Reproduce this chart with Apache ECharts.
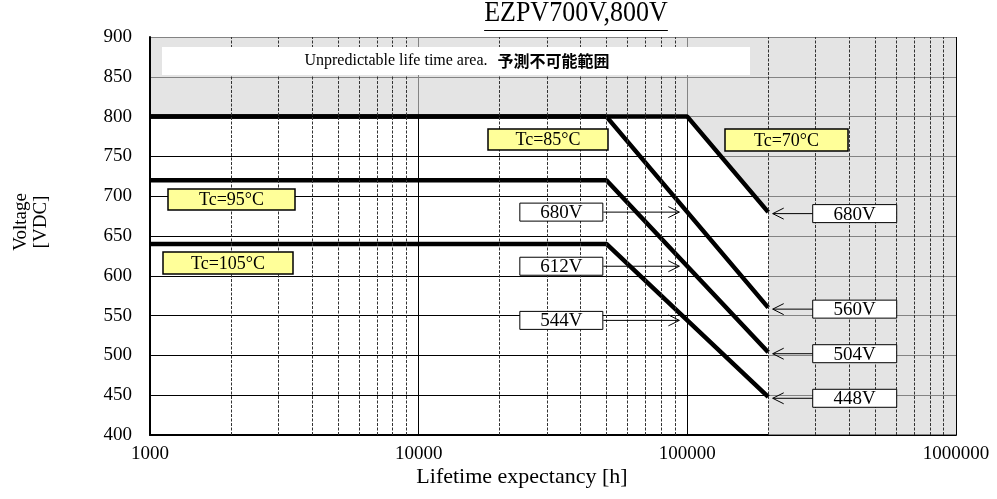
<!DOCTYPE html>
<html><head><meta charset="utf-8">
<script src="https://cdn.jsdelivr.net/npm/echarts@6/dist/echarts.min.js"></script>
<style>html,body{margin:0;padding:0;background:#fff}#c{width:997px;height:499px}</style>
</head><body><div id="c"></div>
<script>
// ---- data ----
const lifeHours70 = [1000, 100000, 200000];
const volt70 = [800, 800, 680];
const lifeHours = [1000, 50000, 200000];
const volt85 = [800, 800, 560];
const volt95 = [720, 720, 504];
const volt105 = [640, 640, 448];
const xTicks = [1000, 10000, 100000, 1000000];
const yTicks = [400, 450, 500, 550, 600, 650, 700, 750, 800, 850, 900];
const minorGrid = [2000,3000,4000,5000,6000,7000,8000,9000,
  20000,30000,40000,50000,60000,70000,80000,90000,
  200000,300000,400000,500000,600000,700000,800000,900000];
const midHours = 100000;
const midVolts = [680, 612, 544];
const endHours = 200000;
const endVolts = [680, 560, 504, 448];
const tcLabels = ['Tc=70°C', 'Tc=85°C', 'Tc=95°C', 'Tc=105°C'];
const titleText = 'EZPV700V,800V';
const areaText = 'Unpredictable life time area.';
const areaTextJa = '予測不可能範囲';
const xName = 'Lifetime expectancy [h]';
const yName = ['Voltage', '[VDC]'];

const SERIF = '"Liberation Serif", "Times New Roman", serif';
const zip = (xs, ys) => xs.map((x, i) => [x, ys[i]]);

const chart = echarts.init(document.getElementById('c'), null, {renderer: 'canvas'});
const xMin = xTicks[0], xMax = xTicks[xTicks.length - 1];
const yMin = yTicks[0], yMax = yTicks[yTicks.length - 1];

// unpredictable region: above the Tc=70 envelope and beyond its end
const grayRegion = [[xMin, yMax]].concat(zip(lifeHours70, volt70))
  .concat([[lifeHours70[lifeHours70.length - 1], yMin], [xMax, yMin], [xMax, yMax]]);

const lineStyle = {color: '#000', width: 4.5};
function lineSeries(name, xs, ys) {
  return {name, type: 'line', data: zip(xs, ys), symbol: 'none', z: 4,
    lineStyle, silent: true, animation: false};
}

chart.setOption({
  animation: false,
  grid: {left: 150, right: 41, top: 37, bottom: 64},
  xAxis: {
    type: 'log', logBase: 10, min: xMin, max: xMax,
    axisLine: {show: true, onZero: false, lineStyle: {color: '#000', width: 2}},
    axisTick: {show: false},
    axisLabel: {fontFamily: SERIF, fontSize: 19, color: '#000', margin: 10,
      formatter: v => String(Math.round(v))},
    splitLine: {show: true, lineStyle: {color: '#000', width: 1}}
  },
  yAxis: {
    type: 'value', min: yMin, max: yMax, interval: 50,
    axisLine: {show: true, lineStyle: {color: '#000', width: 2}},
    axisTick: {show: false},
    axisLabel: {fontFamily: SERIF, fontSize: 19, color: '#000', margin: 18},
    splitLine: {show: true, lineStyle: {color: '#000', width: 1}}
  },
  series: [
    {type: 'line', data: [], z: 1, silent: true,
      markLine: {silent: true, symbol: 'none', label: {show: false}, animation: false,
        lineStyle: {color: '#333', width: 1, type: [3, 1.5]},
        data: minorGrid.map(v => ({xAxis: v}))}},
    {type: 'custom', z: 2, silent: true, data: [[xMin, yMin]],
      renderItem: (params, api) => ({
        type: 'polygon',
        shape: {points: grayRegion.map(p => api.coord(p))},
        style: {fill: 'rgba(212,212,212,0.62)'}
      })},
    {type: 'line', data: [], z: 5, silent: true,
      markLine: {silent: true, symbol: 'none', label: {show: false}, animation: false,
        lineStyle: {color: '#000', width: 2, type: 'solid'},
        data: [{xAxis: xMin}]}},
    lineSeries(tcLabels[0], lifeHours70, volt70),
    lineSeries(tcLabels[1], lifeHours, volt85),
    lineSeries(tcLabels[2], lifeHours, volt95),
    lineSeries(tcLabels[3], lifeHours, volt105)
  ]
});

// ---- annotations ----
const px = (x, y) => chart.convertToPixel({gridIndex: 0}, [x, y]);
const g = [];
const ctx = document.createElement('canvas').getContext('2d');

// title with underline
ctx.font = '26px ' + SERIF;
const tw = ctx.measureText(titleText).width;
const tcx = 576, tby = 28;
g.push({type: 'text', z: 20, style: {text: titleText, x: tcx, y: tby, align: 'center',
  verticalAlign: 'bottom', font: '26px ' + SERIF, fill: '#000'}, scaleY: 1.12, originY: tby, originX: tcx});
g.push({type: 'line', z: 20, shape: {x1: tcx - tw / 2, y1: 30.5, x2: tcx + tw / 2, y2: 30.5},
  style: {stroke: '#000', lineWidth: 1}});

// unpredictable area box
g.push({type: 'rect', z: 20, shape: {x: 162, y: 47, width: 588, height: 28}, style: {fill: '#fff'}});
g.push({type: 'text', z: 21, style: {
  text: '{a|' + areaText + '}   {b|' + areaTextJa + '}', x: 457, y: 61, align: 'center', verticalAlign: 'middle',
  rich: {a: {fontFamily: SERIF, fontSize: 16, color: '#000'},
         b: {fontFamily: '"Noto Sans CJK JP", sans-serif', fontSize: 16, fontWeight: 'bold', color: '#000'}}}});

// Tc labels (yellow boxes)
const tcBoxes = [[725, 129, 123, 22], [488, 129, 120, 21], [168, 189, 127, 21], [163, 252, 130, 22]];
tcLabels.forEach((t, i) => {
  const [x, y, w, h] = tcBoxes[i];
  g.push({type: 'rect', z: 20, shape: {x, y, width: w, height: h},
    style: {fill: '#ffff99', stroke: '#000', lineWidth: 1.5}});
  g.push({type: 'text', z: 21, style: {text: t, x: x + w / 2, y: y + h / 2 + 1, align: 'center',
    verticalAlign: 'middle', font: '18px ' + SERIF, fill: '#000'}});
});

function valueBox(cx, cy, w, h, label) {
  g.push({type: 'rect', z: 20, shape: {x: cx - w / 2, y: cy - h / 2, width: w, height: h},
    style: {fill: '#fff', stroke: '#000', lineWidth: 1}});
  g.push({type: 'text', z: 21, style: {text: label, x: cx, y: cy + 1, align: 'center',
    verticalAlign: 'middle', font: '19px ' + SERIF, fill: '#000'}});
}
function arrow(x1, y, x2) {
  const d = x2 > x1 ? 1 : -1;
  g.push({type: 'line', z: 20, shape: {x1, y1: y, x2, y2: y}, style: {stroke: '#000', lineWidth: 1}});
  g.push({type: 'polyline', z: 20, shape: {points: [[x2 - d * 11, y - 5.5], [x2, y], [x2 - d * 11, y + 5.5]]},
    style: {stroke: '#000', lineWidth: 1, fill: null}});
}
// labels at the 100000 h crossing
midVolts.forEach(v => {
  const [ax, ay] = px(midHours, v);
  valueBox(ax - 126, ay, 83, 18, v + 'V');
  arrow(ax - 84, ay, ax - 8);
});
// labels at the end points
endVolts.forEach(v => {
  const [ax, ay] = px(endHours, v);
  valueBox(ax + 86.5, ay + 1.5, 84, 18, v + 'V');
  arrow(ax + 44.5, ay + 1.5, ax + 4.5);
});

// axis names
g.push({type: 'text', z: 20, style: {text: xName, x: 522, y: 477, align: 'center', verticalAlign: 'middle',
  font: '22px ' + SERIF, fill: '#000'}});
g.push({type: 'text', z: 20, rotation: Math.PI / 2, x: 31, y: 222,
  style: {text: yName.join('\n'), x: 0, y: 0, align: 'center', verticalAlign: 'middle',
    font: '19px ' + SERIF, lineHeight: 20, fill: '#000'}});

chart.setOption({graphic: {elements: g}});
</script></body></html>
